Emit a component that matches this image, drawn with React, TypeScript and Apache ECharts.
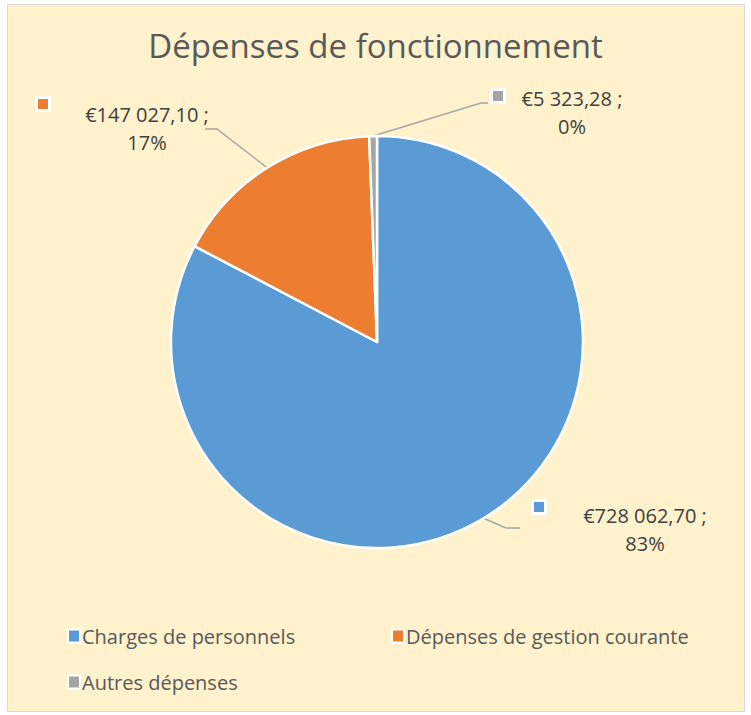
import React, { useEffect, useRef } from "react";
import * as echarts from "echarts";

const categories = ["Charges de personnels", "Dépenses de gestion courante", "Autres dépenses"];
const values = [728062.7, 147027.1, 5323.28];
const percentLabels = ["83%", "17%", "0%"];
const colors = ["#5B9BD5", "#ED7D31", "#A5A5A5"];

// label layout (centre of label block, and leader-line elbow points)
const labelCenters = [
  [645, 529],
  [147, 128],
  [572, 112],
];
const labelElbows = [
  [[506, 528], [520, 528]],
  [[217, 129], [205, 129]],
  [[481, 103], [488, 103]],
];
const keySquares = [
  [534, 502],
  [38, 99],
  [493, 91],
];

const FONT = "'Open Sans', 'Liberation Sans', sans-serif";

function fmtEuro(v: number): string {
  const [i, d] = v.toFixed(2).split(".");
  return "€" + i.replace(/\B(?=(\d{3})+(?!\d))/g, " ") + "," + d;
}

export default function App() {
  const ref = useRef<HTMLDivElement>(null);
  useEffect(() => {
    document.body.style.margin = "0";
    const chart = echarts.init(ref.current!, null, { renderer: "svg" });
    const cx = 377;
    const cy = 342;
    const r = 206;
    const total = values.reduce((a, b) => a + b, 0);
    const edgePoint = (idx: number) => {
      let before = 0;
      for (let k = 0; k < idx; k++) before += values[k];
      const mid = ((before + values[idx] / 2) / total) * Math.PI * 2;
      return [cx + r * Math.sin(mid), cy - r * Math.cos(mid)];
    };
    const legendBase = {
      icon: "rect",
      itemWidth: 12,
      itemHeight: 13,
      itemGap: 10,
      selectedMode: false,
      itemStyle: { borderColor: "#ffffff", borderWidth: 2 },
      textStyle: { fontFamily: FONT, fontSize: 20, color: "#595959", padding: [0, 0, 0, -3] },
    };
    chart.setOption({
      animation: false,
      color: colors,
      title: {
        text: "Dépenses de fonctionnement",
        left: "center",
        top: 24,
        textStyle: { fontFamily: FONT, fontSize: 33, fontWeight: "normal", color: "#595959" },
      },
      legend: [
        { ...legendBase, data: [categories[0]], left: 62, top: 621 },
        { ...legendBase, data: [categories[1]], left: 386, top: 621 },
        { ...legendBase, data: [categories[2]], left: 62, top: 667 },
      ],
      graphic: [
        {
          type: "rect",
          z: -10,
          shape: { x: 7.5, y: 4.5, width: 737, height: 707 },
          style: { fill: "#FFF2CC", stroke: "#D9D9D9", lineWidth: 1 },
        },
        ...keySquares.map((p, i) => ({
          type: "rect",
          z: 10,
          shape: { x: p[0] - 1.5, y: p[1] - 1.5, width: 13, height: 13 },
          style: { fill: colors[i], stroke: "#ffffff", lineWidth: 3 },
        })),
      ],
      series: [
        {
          type: "pie",
          center: [cx, cy],
          radius: [0, r],
          startAngle: 90,
          clockwise: true,
          itemStyle: { borderColor: "#ffffff", borderWidth: 2.5 },
          emphasis: { disabled: true },
          label: {
            show: true,
            position: "outside",
            fontFamily: FONT,
            fontSize: 20,
            color: "#404040",
            lineHeight: 28,
            align: "center",
            formatter: (p: any) => fmtEuro(p.value) + " ;\n" + percentLabels[p.dataIndex],
          },
          labelLine: {
            show: true,
            lineStyle: { color: "#A6A6A6", width: 1.5 },
          },
          labelLayout: (params: any) => {
            const i = params.dataIndex;
            return {
              x: labelCenters[i][0],
              y: labelCenters[i][1],
              align: "center",
              verticalAlign: "middle",
              labelLinePoints: [edgePoint(i), labelElbows[i][0], labelElbows[i][1]],
            };
          },
          data: categories.map((name, i) => ({ name, value: values[i] })),
        },
      ],
    });
    return () => chart.dispose();
  }, []);
  return <div ref={ref} style={{ width: 751, height: 715, background: "#ffffff" }} />;
}
